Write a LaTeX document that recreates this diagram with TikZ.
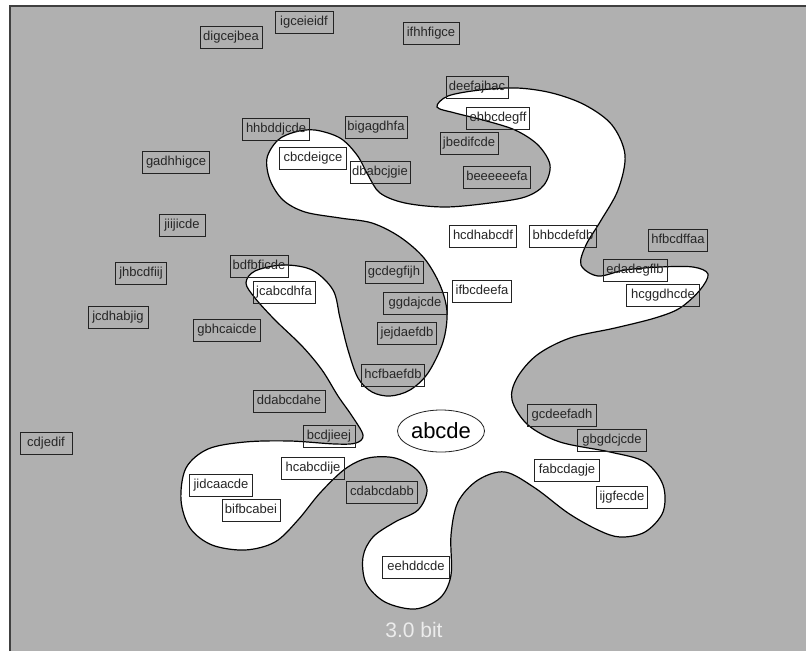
\documentclass[tikz,border=0pt]{standalone}
\usepackage{fontspec}
\setmainfont{Liberation Sans}
\usetikzlibrary{shapes.geometric}

\definecolor{bggrey}{RGB}{176,176,176}
\definecolor{inkline}{RGB}{35,35,35}
\definecolor{faint}{RGB}{236,236,236}

\tikzset{
  lbl/.style={draw=inkline, line width=1pt, inner xsep=1.5pt, inner ysep=0pt,
    minimum height=22pt, text height=9.8pt, text depth=2.9pt,
    font=\fontsize{13}{15}\selectfont, text=black!85},
  region/.style={fill=white, draw=black, line width=1.2pt},
  centre/.style={draw=inkline, line width=0.8pt, ellipse, inner sep=0pt,
    minimum width=87pt, minimum height=42pt, font=\fontsize{22}{24}\selectfont}
}

\begin{document}
\begin{tikzpicture}[x=1pt, y=-1pt]
\useasboundingbox (0,0) rectangle (806,651);

% grey field with its dark edge on the left and top
\fill[bggrey] (10,6) rectangle (806,651);
\draw[line width=1.6pt, black!75] (10,651) -- (10,6) -- (806,6);

% the white region
\draw[region] plot[smooth cycle, tension=0.55] coordinates {
  (315,130) (340,138) (357,155) (368,175) (380,193) (405,203) (445,207)
  (490,203) (525,197) (544,185) (550,165) (538,145) (515,130) (483,120)
  (455,113) (437,107) (448,96) (480,90) (517,88) (552,93) (585,105)
  (612,125) (625,155) (618,190) (600,222) (586,245) (581,265) (598,276)
  (625,270) (660,267) (693,267) (708,274) (700,290) (680,308) (655,318)
  (615,328) (570,338) (537,355) (517,378) (512,400) (528,425) (560,442)
  (610,452) (645,462) (663,485) (663,512) (645,532) (620,537) (598,530)
  (568,513) (535,488) (505,472) (478,480) (458,502) (451,535) (451,575)
  (440,598) (415,609) (385,602) (366,583) (363,557) (373,537) (395,522)
  (418,510) (427,490) (417,470) (395,458) (368,458) (345,469) (320,493)
  (298,520) (275,542) (245,550) (212,545) (190,528) (181,500) (186,468)
  (208,449) (245,442) (290,441) (335,444) (356,443) (363,435) (352,416)
  (338,396) (322,370) (302,346) (275,320) (255,298) (246,283) (255,271)
  (283,265) (312,270) (333,290) (340,318) (348,350) (358,378) (372,392)
  (390,396) (410,390) (428,373) (443,342) (447,312) (440,285) (424,258)
  (400,237) (372,223) (340,218) (305,212) (283,200) (270,180) (267,158)
  (278,140) (295,132)
};

% labels: width / x / y / text
\foreach \w/\x/\y/\t in {
  62/231/37/digcejbea, 58/304/22/igceieidf, 56/431/33/ifhhfigce,
  62/477/87/deefajhac, 63/498/118/ehbcdegff, 67/276/129/hhbddjcde,
  62/376/127/bigagdhfa, 58/469/143/jbedifcde, 67/313/158/cbcdeigce,
  67/176/162/gadhhigce, 60/380/172/dbabcjgie, 67/497/177/beeeeeefa,
  46/182/225/jiijicde, 67/483/236/hcdhabcdf, 67/563/236/bhbcdefdb,
  59/678/240/hfbcdffaa, 51/141/273/jhbcdfiij, 58/259/266/bdfbficde,
  62/284/292/jcabcdhfa, 58/394/272/gcdegfijh, 64/635/270/edadegflb,
  59/482/291/ifbcdeefa, 73/663/295/hcggdhcde, 60/118/317/jcdhabjig,
  67/227/330/gbhcaicde, 64/415/303/ggdajcde, 59/407/333/jejdaefdb,
  63/393/375/hcfbaefdb, 72/289/401/ddabcdahe, 52/329/436/bcdjieej,
  52/46/443/cdjedif, 69/562/415/gcdeefadh, 69/612/440/gbgdcjcde,
  63/313/468/hcabcdije, 63/221/485/jidcaacde, 71/382/492/cdabcdabb,
  58/251/510/bifbcabei, 65/567/470/fabcdagje, 51/622/497/ijgfecde,
  67/416/567/eehddcde}
  \node[lbl, minimum width=\w pt] (\t) at (\x,\y) {\t};

\node[centre] (core) at (441,431) {abcde};

\node[text=faint, font=\fontsize{21}{24}\selectfont] (entropy) at (414,630) {3.0 bit};
\end{tikzpicture}
\end{document}
